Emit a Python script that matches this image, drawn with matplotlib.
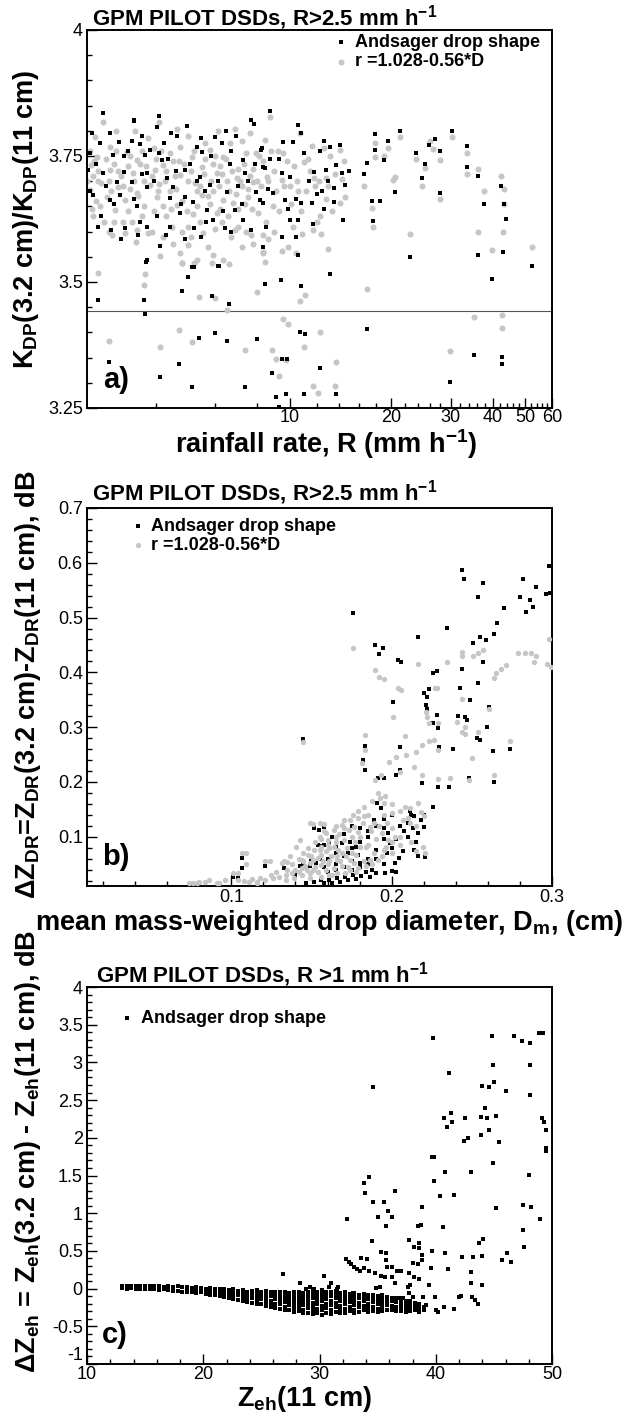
import matplotlib
matplotlib.use('Agg')
import matplotlib.pyplot as plt
import numpy as np
from matplotlib.ticker import FixedLocator, NullFormatter

plt.rcParams['font.family'] = 'Liberation Sans'
plt.rcParams['mathtext.fontset'] = 'custom'
plt.rcParams['mathtext.rm'] = 'Liberation Sans:bold'
plt.rcParams['mathtext.it'] = 'Liberation Sans:bold'
plt.rcParams['mathtext.bf'] = 'Liberation Sans:bold'
plt.rcParams['axes.unicode_minus'] = False

# ---------------- panel a: Kdp ratio vs rain rate (R, ratio) ----------------
a_black = [
    (2.48, 3.79), (2.59, 3.796), (2.93, 3.796), (3.45, 3.82), (4.04, 3.807), (4.94, 3.81), (6.46, 3.80),
    (6.90, 3.79), (7.84, 3.813), (3.63, 3.79), (4.61, 3.79), (6.0, 3.787),
    (2.73, 3.775), (3.12, 3.778), (3.59, 3.774), (4.24, 3.776), (5.29, 3.767), (5.5, 3.758), (6.27, 3.775),
    (8.2, 3.762), (7.28, 3.742), (2.98, 3.752), (3.21, 3.75), (3.85, 3.762), (4.17, 3.743), (2.55, 3.755), (3.72, 3.752),
    (2.52, 3.722), (2.79, 3.716), (3.21, 3.719), (3.39, 3.699), (3.76, 3.716), (4.31, 3.706), (4.88, 3.722),
    (5.41, 3.709), (5.79, 3.692), (6.49, 3.679), (7.36, 3.716), (8.34, 3.729), (4.51, 3.689), (3.06, 3.699),
    (2.6, 3.673), (2.93, 3.663), (2.76, 3.63), (3.51, 3.65), (3.76, 3.689), (4.04, 3.63), (4.41, 3.666),
    (4.88, 3.669), (5.17, 3.659), (5.66, 3.643), (5.93, 3.623), (6.88, 3.643), (7.28, 3.623), (8.34, 3.656),
    (3.13, 3.673), (4.72, 3.636), (7.96, 3.679),
    (2.94, 3.603), (3.25, 3.607), (3.78, 3.61), (4.12, 3.571), (4.29, 3.593), (5.19, 3.607), (5.14, 3.53),
    (6.44, 3.607), (7.69, 3.603), (8.34, 3.569), (3.76, 3.544), (6.14, 3.532), (5.63, 3.62), (3.55, 3.593),
    (2.79, 3.835), (4.10, 3.83), (8.75, 3.84), (3.44, 3.822), (7.68, 3.822),
    (2.65, 3.735), (2.85, 3.69), (3.0, 3.655), (3.3, 3.76), (3.45, 3.665), (3.65, 3.715), (3.95, 3.70),
    (4.1, 3.755), (4.35, 3.745), (4.6, 3.72), (4.75, 3.655), (5.05, 3.735), (5.3, 3.70), (5.6, 3.68),
    (5.85, 3.75), (6.1, 3.70), (6.35, 3.64), (6.65, 3.735), (7.0, 3.69), (7.5, 3.70), (7.9, 3.735),
    (2.7, 3.61), (3.15, 3.585), (3.6, 3.62), (4.4, 3.61), (4.9, 3.585), (5.45, 3.59), (6.7, 3.60),
    (7.2, 3.655), (8.6, 3.685), (9.3, 3.745), (11.4, 3.70), (12.3, 3.76), (13.0, 3.70), (9.9, 3.645),
    (2.55, 3.68), (3.4, 3.78), (4.45, 3.795), (5.45, 3.785), (6.7, 3.76),
    (10.6, 3.811), (10.8, 3.795), (9.57, 3.778), (10.2, 3.778), (11.0, 3.755), (8.24, 3.765), (8.74, 3.745),
    (8.43, 3.726), (9.47, 3.716), (9.98, 3.709), (12.6, 3.78), (13.2, 3.767), (14.1, 3.771), (13.7, 3.733),
    (11.8, 3.719), (12.8, 3.722), (14.3, 3.717), (15.0, 3.721), (14.6, 3.692), (13.5, 3.686), (12.5, 3.681),
    (12.0, 3.675), (13.5, 3.659), (11.6, 3.656), (10.8, 3.657), (10.4, 3.664), (9.68, 3.663), (8.94, 3.676),
    (8.15, 3.663), (12.6, 3.644), (11.7, 3.616), (14.4, 3.623), (10.0, 3.623), (10.6, 3.623), (8.5, 3.61),
    (9.47, 3.59), (10.4, 3.59), (10.6, 3.554), (16.6, 3.714), (17.0, 3.736), (17.9, 3.794), (17.9, 3.762),
    (19.6, 3.78), (19.0, 3.742), (17.5, 3.661), (18.5, 3.661), (17.6, 3.622), (20.5, 3.679), (21.2, 3.80),
    (23.7, 3.755), (25.2, 3.734), (24.6, 3.706), (27.0, 3.783), (25.9, 3.772), (27.9, 3.76), (27.9, 3.677),
    (30.2, 3.80), (33.5, 3.769), (33.5, 3.729), (22.8, 3.549),
    (36.3, 3.71), (42.2, 3.69), (37.6, 3.655), (43.3, 3.655), (43.9, 3.625), (36.3, 3.553), (39.9, 3.506),
    (43.0, 3.559), (52.4, 3.532), (35.1, 3.355), (42.7, 3.352), (42.7, 3.337),
    (3.74, 3.540), (6.17, 3.532), (5.2, 3.530), (5.0, 3.510), (4.79, 3.483), (8.43, 3.496), (9.42, 3.504),
    (10.8, 3.493), (13.2, 3.515), (2.69, 3.464), (3.69, 3.464), (3.72, 3.436), (5.89, 3.472), (6.6, 3.456),
    (2.90, 3.342), (4.12, 3.311), (4.69, 3.337), (5.12, 3.292), (5.39, 3.388), (6.0, 3.398), (6.53, 3.382),
    (7.37, 3.291), (8.0, 3.387), (8.86, 3.319), (9.08, 3.272), (9.30, 3.252), (9.5, 3.347), (9.8, 3.347),
    (9.74, 3.278), (10.7, 3.40), (11.1, 3.396), (11.0, 3.277), (12.3, 3.33), (13.7, 3.277), (16.9, 3.407),
    (29.8, 3.302),
]
a_grey = [
    (2.79, 3.818), (2.64, 3.788), (3.47, 3.80), (4.63, 3.803), (5.0, 3.79), (7.62, 3.796), (6.88, 3.803), (8.44, 3.782),
    (2.93, 3.768), (3.28, 3.758), (3.94, 3.765), (4.41, 3.755), (4.72, 3.768), (5.8, 3.762), (6.63, 3.775),
    (6.34, 3.749), (7.96, 3.755), (2.67, 3.749), (5.12, 3.749), (3.51, 3.742),
    (2.57, 3.732), (2.93, 3.722), (3.1, 3.689), (3.43, 3.716), (3.98, 3.722), (4.21, 3.732), (4.72, 3.712),
    (5.23, 3.696), (5.47, 3.729), (6.06, 3.716), (6.95, 3.706), (7.79, 3.699), (8.53, 3.709), (3.85, 3.692), (2.76, 3.696),
    (2.55, 3.683), (2.87, 3.669), (2.73, 3.65), (3.03, 3.643), (3.25, 3.663), (3.51, 3.676), (3.63, 3.63),
    (4.03, 3.669), (4.21, 3.65), (4.61, 3.653), (4.94, 3.64), (5.47, 3.673), (5.29, 3.65), (6.34, 3.663),
    (6.79, 3.656), (7.53, 3.669), (8.05, 3.636), (6.06, 3.636), (3.94, 3.64), (6.56, 3.63),
    (2.97, 3.593), (3.25, 3.597), (3.51, 3.603), (3.8, 3.597), (4.12, 3.552), (4.46, 3.61), (4.72, 3.557),
    (5.0, 3.573), (5.29, 3.544), (5.53, 3.597), (5.93, 3.554), (6.34, 3.544), (7.2, 3.57), (7.69, 3.593),
    (6.88, 3.603), (8.3, 3.56), (8.3, 3.593), (4.77, 3.537),
    (2.6, 3.71), (2.7, 3.70), (3.0, 3.735), (3.15, 3.71), (3.3, 3.73), (3.6, 3.735), (3.7, 3.70), (4.0, 3.745),
    (4.3, 3.72), (4.5, 3.74), (4.85, 3.735), (5.1, 3.72), (5.6, 3.745), (5.9, 3.735), (6.2, 3.73), (6.5, 3.70),
    (7.0, 3.725), (7.3, 3.735), (7.6, 3.71), (2.65, 3.66), (3.35, 3.685), (4.1, 3.695), (4.6, 3.685), (5.4, 3.69),
    (5.9, 3.68), (6.9, 3.675), (7.2, 3.69), (3.4, 3.62), (4.3, 3.63), (5.0, 3.61), (5.8, 3.655), (7.0, 3.645),
    (7.7, 3.645), (2.8, 3.62), (3.3, 3.64),
    (2.55, 3.76), (2.62, 3.74), (2.7, 3.72), (2.85, 3.745), (2.9, 3.70), (2.95, 3.68), (3.05, 3.76), (3.1, 3.72),
    (3.2, 3.69), (3.35, 3.75), (3.45, 3.70), (3.55, 3.67), (3.65, 3.76), (3.75, 3.73), (3.9, 3.71), (4.05, 3.68),
    (4.15, 3.76), (4.25, 3.70), (4.4, 3.68), (4.55, 3.71), (4.7, 3.74), (4.8, 3.66), (5.0, 3.70), (5.2, 3.76),
    (5.3, 3.68), (5.55, 3.715), (5.7, 3.67), (5.85, 3.70), (6.0, 3.75), (6.15, 3.69), (6.3, 3.715), (6.45, 3.745),
    (6.6, 3.68), (6.75, 3.72), (7.1, 3.70), (7.4, 3.755), (7.5, 3.685), (7.8, 3.725), (8.0, 3.70), (8.1, 3.75),
    (2.6, 3.63), (2.9, 3.60), (3.2, 3.62), (3.5, 3.58), (3.9, 3.60), (4.2, 3.59), (4.5, 3.575), (4.8, 3.60),
    (5.1, 3.59), (5.4, 3.62), (5.7, 3.57), (6.0, 3.605), (6.3, 3.62), (6.7, 3.59), (7.0, 3.61), (7.4, 3.60),
    (7.8, 3.575), (3.0, 3.62), (3.7, 3.65), (4.45, 3.645), (5.15, 3.635), (6.2, 3.645), (7.35, 3.655),
    (2.5, 3.70), (2.58, 3.645), (9.2, 3.76), (9.6, 3.69), (10.1, 3.655), (10.6, 3.68), (11.3, 3.745),
    (11.9, 3.69), (12.8, 3.665), (13.6, 3.715), (14.5, 3.74), (9.1, 3.68), (10.9, 3.595), (12.0, 3.62),
    (8.8, 3.76), (11.6, 3.77), (3.05, 3.80), (3.8, 3.785), (5.6, 3.775), (6.1, 3.80), (7.2, 3.78),
    (4.10, 3.818), (8.75, 3.828), (10.7, 3.795), (9.57, 3.755), (11.0, 3.739), (9.47, 3.702), (12.6, 3.765),
    (13.2, 3.75), (14.1, 3.762), (11.8, 3.706), (12.8, 3.706), (14.3, 3.704), (14.6, 3.669), (14.1, 3.656),
    (11.7, 3.603), (9.47, 3.562), (8.34, 3.557), (16.6, 3.69), (17.9, 3.776), (17.9, 3.749), (19.6, 3.765),
    (19.0, 3.75), (17.5, 3.646), (17.6, 3.61), (20.5, 3.709), (20.2, 3.702), (21.2, 3.788), (23.7, 3.745),
    (25.2, 3.726), (24.6, 3.69), (26.0, 3.78), (26.6, 3.763), (27.9, 3.742), (27.9, 3.664), (30.2, 3.788),
    (33.5, 3.755), (33.5, 3.714), (22.8, 3.595),
    (8.3, 3.74), (8.6, 3.70), (9.0, 3.72), (8.9, 3.65), (9.3, 3.64), (10.0, 3.69), (10.5, 3.70), (11.2, 3.68),
    (8.5, 3.62), (9.0, 3.60), (10.2, 3.61), (10.8, 3.64), (12.2, 3.70), (13.0, 3.69), (12.3, 3.63), (13.3, 3.64),
    (11.5, 3.72), (9.8, 3.74), (10.3, 3.73), (8.2, 3.69), (8.6, 3.585), (9.9, 3.57), (12.4, 3.595),
    (37.8, 3.68), (43.1, 3.685), (36.3, 3.725), (42.2, 3.71), (43.3, 3.655), (36.3, 3.60), (39.9, 3.563),
    (43.0, 3.60), (52.4, 3.57), (35.1, 3.43), (42.7, 3.435), (42.7, 3.408),
    (2.69, 3.518), (3.72, 3.516), (3.68, 3.494), (4.78, 3.538), (5.19, 3.538), (5.89, 3.538), (6.6, 3.536),
    (5.39, 3.471), (6.0, 3.468), (6.53, 3.444), (8.0, 3.481), (8.43, 3.54), (10.7, 3.463), (11.1, 3.474),
    (16.9, 3.486), (2.90, 3.383), (4.12, 3.372), (4.69, 3.405), (5.12, 3.38), (7.37, 3.365), (8.86, 3.366),
    (9.08, 3.348), (9.30, 3.314), (9.56, 3.426), (9.9, 3.417), (9.74, 3.345), (11.0, 3.372), (11.7, 3.294),
    (12.1, 3.279), (12.3, 3.40), (13.7, 3.341), (13.6, 3.294), (29.8, 3.364), (13.0, 3.565), (10.4, 3.557),
]
a_ref_line = 3.4425

# ---------------- panel b: dZdr vs Dm (Dm, dZdr) ----------------
b_black = [
    (0.176, 0.509), (0.1896, 0.450), (0.1948, 0.445), (0.192, 0.433), (0.204, 0.422), (0.206, 0.419),
    (0.2166, 0.465), (0.2347, 0.481), (0.2437, 0.587), (0.2451, 0.570), (0.2437, 0.407), (0.226, 0.398),
    (0.228, 0.403), (0.2235, 0.369), (0.22, 0.362), (0.222, 0.355), (0.2216, 0.340), (0.222, 0.334),
    (0.228, 0.322), (0.226, 0.308), (0.229, 0.298), (0.2007, 0.346), (0.2426, 0.372), (0.2416, 0.320),
    (0.257, 0.564), (0.254, 0.538), (0.270, 0.518), (0.266, 0.490), (0.251, 0.453), (0.255, 0.465),
    (0.259, 0.459), (0.264, 0.470), (0.280, 0.538), (0.282, 0.570), (0.286, 0.532), (0.288, 0.520),
    (0.290, 0.556), (0.284, 0.510), (0.296, 0.543), (0.299, 0.544), (0.298, 0.594), (0.257, 0.418),
    (0.1444, 0.278), (0.1835, 0.266), (0.2296, 0.263), (0.238, 0.260), (0.253, 0.28), (0.255, 0.277),
    (0.248, 0.207), (0.254, 0.381), (0.261, 0.336), (0.263, 0.257), (0.2641, 0.200), (0.274, 0.260),
    (0.229, 0.191), (0.236, 0.191), (0.2255, 0.155), (0.219, 0.198), (0.2203, 0.118), (0.221, 0.063),
    (0.2165, 0.064), (0.214, 0.076), (0.2153, 0.091), (0.2165, 0.106), (0.214, 0.137), (0.2115, 0.146),
    (0.205, 0.222), (0.203, 0.212), (0.205, 0.264), (0.1915, 0.207), (0.1835, 0.222), (0.182, 0.24),
    (0.1955, 0.207), (0.191, 0.161), (0.1935, 0.152), (0.195, 0.132), (0.189, 0.131), (0.198, 0.106),
    (0.199, 0.088), (0.2045, 0.061), (0.202, 0.052), (0.207, 0.073), (0.2, 0.038), (0.203, 0.036),
    (0.196, 0.033), (0.179, 0.067), (0.18, 0.052), (0.1777, 0.082), (0.174, 0.091), (0.1727, 0.07),
    (0.169, 0.088), (0.1652, 0.082), (0.161, 0.091), (0.1577, 0.085), (0.1546, 0.112), (0.154, 0.085),
    (0.1527, 0.052), (0.149, 0.046), (0.1427, 0.047), (0.14, 0.03), (0.1068, 0.061), (0.1068, 0.043),
    (0.121, 0.046), (0.1326, 0.043), (0.2596, 0.301), (0.246, 0.318), (0.247, 0.313), (0.249, 0.350),
    (0.1515, 0.116), (0.158, 0.118), (0.156, 0.083), (0.101, 0.027), (0.104, 0.024),
    (0.1464, 0.016), (0.1514, 0.018), (0.156, 0.021), (0.161, 0.021), (0.166, 0.024), (0.171, 0.027),
    (0.176, 0.03), (0.181, 0.028), (0.1865, 0.027), (0.19, 0.033), (0.1727, 0.021), (0.168, 0.018),
    (0.163, 0.016), (0.158, 0.015), (0.178, 0.022), (0.184, 0.036), (0.188, 0.04),
    (0.16, 0.06), (0.165, 0.05), (0.17, 0.045), (0.175, 0.055), (0.185, 0.06), (0.19, 0.075), (0.195, 0.095),
    (0.185, 0.1), (0.18, 0.115), (0.175, 0.12), (0.17, 0.105), (0.163, 0.1), (0.2, 0.14), (0.205, 0.12),
    (0.21, 0.1), (0.213, 0.115),
    (0.16, 0.035), (0.165, 0.04), (0.175, 0.04), (0.18, 0.045), (0.185, 0.05), (0.195, 0.05), (0.19, 0.06),
    (0.197, 0.07), (0.2, 0.08), (0.203, 0.095), (0.208, 0.11), (0.21, 0.125), (0.212, 0.14), (0.218, 0.13),
    (0.22, 0.14), (0.18, 0.09), (0.185, 0.11), (0.19, 0.12), (0.195, 0.115), (0.175, 0.08), (0.17, 0.065),
    (0.165, 0.07), (0.155, 0.06), (0.15, 0.055), (0.145, 0.05), (0.158, 0.045),
]
b_grey = [
    (0.176, 0.444), (0.1896, 0.404), (0.192, 0.391), (0.195, 0.388), (0.204, 0.371), (0.206, 0.368),
    (0.2166, 0.415), (0.2347, 0.418), (0.2437, 0.437), (0.227, 0.371), (0.228, 0.371), (0.2214, 0.328),
    (0.222, 0.319), (0.223, 0.307), (0.229, 0.307), (0.2007, 0.319), (0.2437, 0.352), (0.241, 0.309),
    (0.244, 0.429), (0.251, 0.429), (0.254, 0.435), (0.257, 0.441), (0.279, 0.435), (0.283, 0.436),
    (0.287, 0.435), (0.290, 0.429), (0.298, 0.460), (0.268, 0.407), (0.271, 0.413), (0.265, 0.398),
    (0.2641, 0.389), (0.297, 0.416), (0.2992, 0.41), (0.289, 0.419),
    (0.246, 0.301), (0.246, 0.288), (0.244, 0.292), (0.2265, 0.277), (0.223, 0.274), (0.219, 0.267),
    (0.229, 0.258), (0.2361, 0.207), (0.229, 0.205), (0.219, 0.213), (0.215, 0.255), (0.209, 0.249),
    (0.2085, 0.284), (0.203, 0.246), (0.1985, 0.237), (0.205, 0.219), (0.214, 0.228), (0.2536, 0.292),
    (0.2604, 0.334), (0.2641, 0.213), (0.274, 0.274), (0.2504, 0.244), (0.248, 0.204), (0.1835, 0.286),
    (0.1895, 0.204), (0.1935, 0.213), (0.1915, 0.179), (0.1927, 0.17), (0.195, 0.161), (0.2002, 0.143),
    (0.205, 0.146), (0.2085, 0.155), (0.2115, 0.152), (0.2115, 0.125), (0.2165, 0.161), (0.2203, 0.137),
    (0.2153, 0.073), (0.2195, 0.082), (0.221, 0.07), (0.1815, 0.234), (0.179, 0.146), (0.1765, 0.118),
    (0.1735, 0.112), (0.169, 0.121), (0.164, 0.112), (0.159, 0.106), (0.155, 0.125), (0.149, 0.125),
    (0.1426, 0.094), (0.1401, 0.082), (0.1364, 0.064), (0.1314, 0.052), (0.1068, 0.07), (0.121, 0.055),
    (0.1326, 0.055), (0.1013, 0.033), (0.1444, 0.272), (0.1835, 0.258),
    (0.151, 0.123), (0.158, 0.124), (0.156, 0.095), (0.109, 0.070), (0.109, 0.051), (0.124, 0.056),
    (0.135, 0.054), (0.104, 0.033),
    (0.0737, 0.015), (0.0787, 0.016), (0.0838, 0.018), (0.0925, 0.015), (0.0963, 0.021), (0.104, 0.021),
    (0.1113, 0.018), (0.1163, 0.018), (0.121, 0.021), (0.126, 0.024), (0.13, 0.027), (0.1339, 0.03),
    (0.1376, 0.033), (0.14, 0.04), (0.144, 0.043), (0.146, 0.046), (0.149, 0.052), (0.151, 0.058),
    (0.1539, 0.061), (0.156, 0.067), (0.159, 0.073), (0.161, 0.079), (0.164, 0.082), (0.1664, 0.076),
    (0.169, 0.07), (0.1715, 0.064), (0.174, 0.058), (0.1765, 0.052), (0.1777, 0.067), (0.18, 0.082),
    (0.1439, 0.03), (0.149, 0.033), (0.1539, 0.036), (0.159, 0.04), (0.164, 0.043), (0.169, 0.046),
    (0.174, 0.04), (0.179, 0.043), (0.184, 0.046), (0.1865, 0.058), (0.189, 0.07), (0.184, 0.082),
    (0.1915, 0.058), (0.194, 0.064), (0.156, 0.027), (0.161, 0.03), (0.166, 0.033), (0.171, 0.033),
    (0.149, 0.024), (0.139, 0.024), (0.1339, 0.021), (0.151, 0.04), (0.156, 0.049), (0.161, 0.055),
    (0.166, 0.058), (0.166, 0.064), (0.1439, 0.058), (0.1477, 0.067), (0.1514, 0.076), (0.156, 0.082),
    (0.1602, 0.094), (0.165, 0.1), (0.17, 0.094), (0.175, 0.1), (0.179, 0.109), (0.174, 0.131),
    (0.179, 0.134), (0.1827, 0.137), (0.1865, 0.118), (0.189, 0.125), (0.194, 0.106), (0.198, 0.094),
    (0.1965, 0.082), (0.2002, 0.07), (0.076, 0.016), (0.0797, 0.018), (0.086, 0.021), (0.091, 0.015),
    (0.116, 0.016),
    (0.135, 0.04), (0.138, 0.05), (0.142, 0.06), (0.145, 0.07), (0.148, 0.08), (0.152, 0.09), (0.155, 0.1),
    (0.158, 0.11), (0.16, 0.05), (0.162, 0.065), (0.165, 0.09), (0.167, 0.105), (0.17, 0.115), (0.172, 0.08),
    (0.175, 0.07), (0.177, 0.09), (0.18, 0.1), (0.182, 0.125), (0.185, 0.14), (0.187, 0.11), (0.19, 0.095),
    (0.192, 0.12), (0.195, 0.14), (0.197, 0.125), (0.2, 0.115), (0.202, 0.1), (0.205, 0.085), (0.207, 0.13),
    (0.21, 0.135), (0.212, 0.09), (0.215, 0.12), (0.218, 0.145), (0.152, 0.045), (0.157, 0.055),
    (0.163, 0.03), (0.168, 0.055), (0.173, 0.045), (0.178, 0.035), (0.183, 0.055), (0.188, 0.05),
    (0.142, 0.035), (0.147, 0.04), (0.128, 0.035), (0.125, 0.03), (0.118, 0.025), (0.113, 0.022),
    (0.108, 0.02), (0.15, 0.065), (0.155, 0.075), (0.16, 0.085), (0.145, 0.055), (0.165, 0.12),
    (0.17, 0.13), (0.176, 0.14), (0.183, 0.155), (0.188, 0.165), (0.196, 0.175), (0.2, 0.16),
    (0.185, 0.085), (0.195, 0.075), (0.2, 0.09), (0.205, 0.1),
]

# ---------------- panel c: dZeh vs Zeh (Zeh, dZeh) ----------------
c_scatter = [
    (34.6, 2.68), (39.8, 3.33), (41.1, 2.855), (44.8, 3.35), (46.7, 3.35), (47.4, 3.29), (48.1, 3.26),
    (48.9, 3.39), (49.2, 3.385), (44.9, 2.965), (48.1, 2.965), (44.0, 2.69), (44.6, 2.68), (45.0, 2.74),
    (46.0, 2.625), (48.1, 2.57), (44.2, 2.40), (41.3, 2.325), (40.7, 2.259), (41.4, 2.214), (41.0, 2.148),
    (42.5, 2.258), (43.9, 2.27), (44.4, 2.26), (45.2, 2.29), (44.6, 2.104), (43.9, 2.04), (42.4, 1.96),
    (42.8, 2.0), (45.4, 1.95), (49.1, 2.26), (49.3, 2.21), (49.5, 2.11), (49.5, 1.86),
    (39.7, 1.75), (39.85, 1.75), (39.86, 1.427), (40.8, 1.54), (40.4, 1.23), (41.6, 1.24), (33.8, 1.405),
    (34.3, 1.485), (33.9, 1.264), (34.6, 1.145), (35.55, 1.153), (36.5, 1.295), (35.9, 1.03), (36.2, 0.954),
    (35.0, 0.945), (35.7, 0.83), (32.35, 0.919), (38.5, 0.83), (38.7, 0.84), (38.8, 1.078), (40.65, 0.813),
    (34.5, 0.636), (37.7, 0.645), (38.1, 0.557), (38.6, 0.61), (38.6, 0.535), (35.3, 0.481), (35.75, 0.468),
    (38.8, 0.45), (38.8, 0.38), (39.7, 0.503), (40.8, 0.468),
    (32.3, 0.393), (32.5, 0.349), (32.7, 0.32), (32.97, 0.291), (33.2, 0.256), (33.5, 0.238), (33.6, 0.41),
    (34.1, 0.39), (33.85, 0.27), (34.3, 0.238), (34.8, 0.203), (35.3, 0.167), (35.6, 0.15), (35.75, 0.38),
    (35.8, 0.291), (36.2, 0.291), (36.2, 0.159), (36.7, 0.238), (37.0, 0.238), (37.7, 0.21), (38.15, 0.159),
    (38.6, 0.123), (36.5, 0.07), (37.6, 0.026), (37.8, 0.048), (39.6, 0.269), (39.4, 0.048), (38.0, 0.335),
    (38.5, 0.326), (41.05, 0.256), (39.9, -0.107), (38.9, -0.116), (39.15, -0.217), (40.0, -0.284),
    (40.2, -0.306), (40.7, -0.248), (41.6, -0.27), (34.9, 0.004), (35.2, 0.017), (37.7, -0.063), (38.0, -0.107),
    (36.8, -0.129), (37.2, -0.129), (26.9, 0.194), (28.3, 0.08), (29.2, 0.017), (30.4, 0.167), (31.0, 0.08),
    (31.6, 0.026), (32.9, -0.054), (42.0, -0.107),
    (43.0, 1.551), (44.9, 1.67), (45.2, 1.064), (47.5, 1.108), (48.2, 1.086), (47.5, 0.777), (47.6, 0.556),
    (48.0, 1.506), (49.0, 0.918), (49.5, 1.83), (45.7, 0.379), (46.5, 0.357), (46.1, 0.467), (43.7, 0.60),
    (44.1, 0.653), (44.0, 0.432), (43.2, 0.423), (42.3, 0.414), (43.0, 0.224), (44.0, 0.047), (43.1, -0.107),
    (43.4, -0.152), (43.6, -0.205), (43.0, 0.07), (42.2, -0.098),
    (29.5, 0.0), (30.8, 0.02), (28.8, -0.01), (31.5, -0.01),
]
# dense band: columns of Zeh with the dZeh values seen in each
c_band_z = [13.0, 13.4, 13.8, 14.2, 14.6, 15.0, 15.4, 15.8, 16.2, 16.6, 17.0, 17.4, 17.8, 18.2, 18.6, 19.0,
            19.4, 19.8, 20.2, 20.6, 21.0, 21.4, 21.8, 22.2, 22.6, 23.0, 23.4, 23.8, 24.2, 24.6, 25.0, 25.4,
            25.8, 26.2, 26.6, 27.0, 27.4, 27.8, 28.2, 28.6, 29.0, 29.4, 29.8, 30.2, 30.6, 31.0, 31.4, 31.8,
            32.2, 32.6, 33.0, 33.4, 33.8, 34.2, 34.6, 35.0, 35.4, 35.8, 36.2, 36.6, 37.0, 37.4, 37.8, 38.2,
            38.6, 39.0]
c_band_dz = [
    [0.03, 0.01], [0.04, 0.0], [0.03, 0.01], [0.04, 0.0], [0.03, 0.0], [0.04, -0.01], [0.03, 0.0],
    [0.03, -0.01], [0.04, -0.02], [0.02, -0.01], [0.03, -0.02], [0.02, -0.03], [0.03, -0.03],
    [0.02, -0.04], [0.02, -0.02, -0.05], [0.01, -0.04], [0.02, -0.03, -0.06], [0.01, -0.05],
    [0.0, -0.03, -0.07], [0.01, -0.04, -0.08], [0.0, -0.05, -0.09], [-0.01, -0.04, -0.1],
    [0.0, -0.06, -0.11], [-0.02, -0.07, -0.12], [-0.01, -0.05, -0.1, -0.14], [-0.03, -0.08, -0.15],
    [-0.02, -0.06, -0.11, -0.16], [-0.04, -0.09, -0.14, -0.18], [-0.03, -0.07, -0.12, -0.19],
    [-0.02, -0.06, -0.11, -0.16, -0.21], [-0.04, -0.09, -0.14, -0.2], [-0.03, -0.08, -0.13, -0.18, -0.23],
    [-0.05, -0.1, -0.16, -0.22, -0.25], [-0.04, -0.09, -0.14, -0.2, -0.26], [-0.05, -0.1, -0.15, -0.21, -0.27],
    [-0.04, -0.08, -0.13, -0.18, -0.24, -0.29], [-0.06, -0.11, -0.16, -0.22, -0.28],
    [-0.05, -0.1, -0.15, -0.2, -0.26, -0.31], [-0.04, -0.09, -0.14, -0.19, -0.24, -0.3],
    [-0.06, -0.11, -0.17, -0.22, -0.28, -0.33], [-0.05, -0.1, -0.15, -0.2, -0.26, -0.32],
    [-0.03, -0.08, -0.13, -0.19, -0.24, -0.3, -0.34], [-0.05, -0.1, -0.15, -0.21, -0.27, -0.33],
    [-0.02, -0.07, -0.12, -0.17, -0.23, -0.29, -0.35], [-0.04, -0.09, -0.14, -0.2, -0.26, -0.32],
    [-0.05, -0.1, -0.16, -0.22, -0.28, -0.34], [-0.03, -0.08, -0.13, -0.19, -0.25, -0.31],
    [-0.06, -0.11, -0.17, -0.23, -0.29, -0.33], [-0.05, -0.1, -0.15, -0.21, -0.27, -0.32],
    [-0.07, -0.12, -0.18, -0.24, -0.3], [-0.06, -0.11, -0.16, -0.22, -0.28, -0.32],
    [-0.08, -0.13, -0.19, -0.25, -0.31], [-0.07, -0.12, -0.17, -0.23, -0.29],
    [-0.09, -0.14, -0.2, -0.26, -0.31], [-0.08, -0.13, -0.18, -0.24, -0.3],
    [-0.1, -0.15, -0.21, -0.27, -0.31], [-0.09, -0.14, -0.19, -0.25, -0.3], [-0.11, -0.16, -0.22, -0.28],
    [-0.12, -0.17, -0.23, -0.29], [-0.13, -0.18, -0.24, -0.3], [-0.14, -0.19, -0.25, -0.3],
    [-0.16, -0.21, -0.26, -0.31], [-0.17, -0.22, -0.27, -0.3], [-0.19, -0.24, -0.29], [-0.21, -0.26, -0.31],
    [-0.25, -0.29],
]

GREY = '#c6c6c6'
LAB = 19.5
TICK = 13


def style(ax):
    for sp in ax.spines.values():
        sp.set_linewidth(1.4)
    ax.tick_params(which='both', direction='in', top=False, right=False, labelsize=TICK, width=1)
    ax.tick_params(which='major', length=7, pad=3)
    ax.tick_params(which='minor', length=3.5)
    ax.xaxis.set_minor_formatter(NullFormatter())


def legend(ax, handles, x, y):
    ax.legend(handles=handles, loc='upper left', bbox_to_anchor=(x, y), frameon=False,
              borderpad=0, borderaxespad=0, handlelength=0.6, handletextpad=0.45,
              labelspacing=0.12, scatterpoints=1, prop={'weight': 'bold', 'size': 13})


fig = plt.figure(figsize=(6.3, 14.13), dpi=100)
L, W = 87 / 630, 465 / 630

# ----- a -----
ax = fig.add_axes([L, 1 - 408 / 1413, W, 378 / 1413])
gx, gy = np.array(a_grey).T
bx, by = np.array(a_black).T
hg = ax.scatter(gx, gy, s=19, marker='o', color=GREY, linewidths=0, label='r =1.028-0.56*D', zorder=2)
hb = ax.scatter(bx, by, s=10, marker='s', color='black', linewidths=0, label='Andsager drop shape', zorder=3)
ax.axhline(a_ref_line, color='#555555', lw=0.8, zorder=1)
ax.set_xscale('log')
ax.set_xlim(2.5, 60)
ax.set_ylim(3.25, 4.0)
style(ax)
ax.xaxis.set_major_locator(FixedLocator([10, 20, 30, 40, 50, 60]))
ax.set_xticklabels(['10', '20', '30', '40', '50', '60'])
ax.xaxis.set_minor_locator(FixedLocator([4, 6, 8, 12, 14, 16, 18, 22, 24, 26, 28, 32, 34, 36, 38,
                                         42, 44, 46, 48, 52, 54, 56, 58]))
ax.xaxis.set_minor_formatter(NullFormatter())
ax.set_yticks([3.25, 3.5, 3.75, 4.0])
ax.set_yticklabels(['3.25', '3.5', '3.75', '4'])
ax.yaxis.set_minor_locator(FixedLocator(np.arange(3.25, 4.0, 0.05)))
ax.tick_params(axis='x', which='major', pad=1)
ax.set_xlabel(r'rainfall rate, R (mm h$^{-1}$)', fontsize=LAB, fontweight='bold', va='center')
ax.xaxis.set_label_coords(0.514, -0.095)
ax.set_ylabel(r'K$_{DP}$(3.2 cm)/K$_{DP}$(11 cm)', fontsize=LAB, fontweight='bold', va='center')
ax.yaxis.set_label_coords(-0.131, 0.5)
ax.text(0.011, 1.013, r'GPM PILOT DSDs, R>2.5 mm h$^{-1}$', transform=ax.transAxes,
        fontsize=16, fontweight='bold', va='baseline', ha='left')
ax.text(0.034, 0.053, 'a)', transform=ax.transAxes, fontsize=21, fontweight='bold', va='baseline')
legend(ax, [hb, hg], 0.535, 0.989)

# ----- b -----
ax = fig.add_axes([L, 1 - 886 / 1413, W, 378 / 1413])
gx, gy = np.array(b_grey).T
bx, by = np.array(b_black).T
hb = ax.scatter(bx, by, s=10, marker='s', color='black', linewidths=0, label='Andsager drop shape', zorder=2)
hg = ax.scatter(gx, gy, s=15, marker='o', color=GREY, linewidths=0, label='r =1.028-0.56*D', zorder=3)
ax.set_xlim(0.01, 0.3)
ax.set_ylim(0.01, 0.7)
style(ax)
ax.set_xticks([0.1, 0.2, 0.3])
ax.set_xticklabels(['0.1', '0.2', '0.3'])
ax.xaxis.set_minor_locator(FixedLocator(np.arange(0.02, 0.3, 0.02)))
ax.set_yticks([0.1, 0.2, 0.3, 0.4, 0.5, 0.6, 0.7])
ax.set_yticklabels(['0.1', '0.2', '0.3', '0.4', '0.5', '0.6', '0.7'])
ax.yaxis.set_minor_locator(FixedLocator(np.arange(0.02, 0.7, 0.02)))
ax.tick_params(axis='x', which='major', pad=2)
ax.set_xlabel(r'mean mass-weighted drop diameter, D$_{m}$, (cm)', fontsize=LAB, fontweight='bold', va='center')
ax.xaxis.set_label_coords(0.52, -0.098)
ax.set_ylabel(r'ΔZ$_{DR}$=Z$_{DR}$(3.2 cm)-Z$_{DR}$(11 cm), dB', fontsize=LAB, fontweight='bold', va='center')
ax.yaxis.set_label_coords(-0.127, 0.532)
ax.text(0.011, 1.021, r'GPM PILOT DSDs, R>2.5 mm h$^{-1}$', transform=ax.transAxes,
        fontsize=16, fontweight='bold', va='baseline', ha='left')
ax.text(0.032, 0.056, 'b)', transform=ax.transAxes, fontsize=21, fontweight='bold', va='baseline')
legend(ax, [hb, hg], 0.097, 0.974)

# ----- c -----
ax = fig.add_axes([L, 1 - 1364 / 1413, W, 377 / 1413])
cz = [z for z, col in zip(c_band_z, c_band_dz) for _ in col] + [p[0] for p in c_scatter]
cd = [d for col in c_band_dz for d in col] + [p[1] for p in c_scatter]
hb = ax.scatter(cz, cd, s=11, marker='s', color='black', linewidths=0, label='Andsager drop shape')
ax.set_xlim(10, 50)
ax.set_ylim(-1, 4)
style(ax)
ax.set_xticks([10, 20, 30, 40, 50])
ax.set_xticklabels(['10', '20', '30', '40', '50'])
ax.xaxis.set_minor_locator(FixedLocator(np.arange(12, 50, 2)))
yt = [-1, -0.5, 0, 0.5, 1, 1.5, 2, 2.5, 3, 3.5, 4]
ax.set_yticks(yt)
ax.set_yticklabels(['-1', '-0.5', '0', '0.5', '1', '1.5', '2', '2.5', '3', '3.5', '4'])
ax.yaxis.set_minor_locator(FixedLocator(np.arange(-0.9, 4.0, 0.1)))
ax.tick_params(axis='x', which='major', pad=1.5)
for lab in ax.get_yticklabels():
    if lab.get_text() == '-1':
        lab.set_va('bottom')
ax.set_xlabel(r'Z$_{eh}$(11 cm)', fontsize=LAB, fontweight='bold', va='center')
ax.xaxis.set_label_coords(0.469, -0.092)
ax.set_ylabel(r'ΔZ$_{eh}$ = Z$_{eh}$(3.2 cm) - Z$_{eh}$(11 cm), dB', fontsize=LAB, fontweight='bold', va='center')
ax.yaxis.set_label_coords(-0.127, 0.564)
ax.text(0.019, 1.013, r'GPM PILOT DSDs, R >1 mm h$^{-1}$', transform=ax.transAxes,
        fontsize=16, fontweight='bold', va='baseline', ha='left')
ax.text(0.032, 0.056, 'c)', transform=ax.transAxes, fontsize=21, fontweight='bold', va='baseline')
legend(ax, [hb], 0.075, 0.939)

fig.savefig('out.png', dpi=100)
